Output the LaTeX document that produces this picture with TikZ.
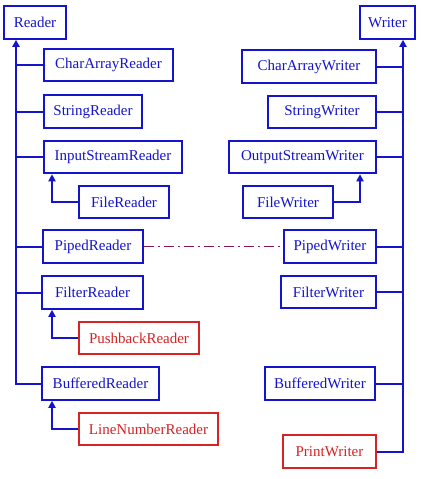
\documentclass[tikz,border=0pt]{standalone}
\usepackage{fontspec}
\setmainfont{Liberation Serif}
\usepackage{xcolor}
\usetikzlibrary{arrows.meta, positioning, calc}
\definecolor{IOBlue}{RGB}{20,20,205}
\definecolor{IORed}{RGB}{215,35,35}
\definecolor{IOPlum}{RGB}{130,20,90}
\tikzset{
    % Node styles
    classbox/.style={
        rectangle,
        draw=IOBlue,
        fill=white,
        line width=2pt,
        minimum height=32.5pt,
        inner sep=0pt,
        text=IOBlue,
        font=\fontsize{15}{18}\selectfont
    },
    redbox/.style={
        classbox,
        draw=IORed,
        text=IORed
    },
    % Line styles
    branch/.style={
        draw=IOBlue,
        line width=2pt
    },
    inherit/.style={
        branch,
        -{Triangle[width=7pt,length=7pt]}
    },
    pipeline/.style={
        draw=IOPlum,
        line width=1pt,
        dash pattern=on 10pt off 4pt on 2pt off 4pt
    }
}
\begin{document}
\begin{tikzpicture}[x=1pt,y=-1pt]
    \useasboundingbox (0,0) rectangle (422,479);

    % Reader side
    \node[classbox,minimum width=62pt] (reader) at (35,22.5) {Reader};
    \node[classbox,minimum width=129pt] (car) at (108.5,65) {CharArrayReader};
    \node[classbox,minimum width=98pt] (strr) at (93,111.5) {StringReader};
    \node[classbox,minimum width=138pt] (isr) at (113,157) {InputStreamReader};
    \node[classbox,minimum width=90pt] (filer) at (124,202) {FileReader};
    \node[classbox,minimum width=100pt] (piper) at (93,246.5) {PipedReader};
    \node[classbox,minimum width=101pt] (filtr) at (92.5,292.5) {FilterReader};
    \node[redbox,minimum width=120pt] (pushr) at (139,338) {PushbackReader};
    \node[classbox,minimum width=117pt] (bufr) at (100.5,383.5) {BufferedReader};
    \node[redbox,minimum width=139pt] (lnr) at (148.5,429) {LineNumberReader};
    \coordinate (rtrunk) at (16,0);

    % Writer side
    \node[classbox,minimum width=55pt] (writer) at (387.5,22.5) {Writer};
    \node[classbox,minimum width=134pt] (caw) at (309,66.5) {CharArrayWriter};
    \node[classbox,minimum width=108pt] (strw) at (322,112) {StringWriter};
    \node[classbox,minimum width=147pt] (osw) at (302.5,157) {OutputStreamWriter};
    \node[classbox,minimum width=90pt] (filew) at (288,202) {FileWriter};
    \node[classbox,minimum width=92pt] (pipew) at (330,246.5) {PipedWriter};
    \node[classbox,minimum width=95pt] (filtw) at (328.5,292) {FilterWriter};
    \node[classbox,minimum width=110pt] (bufw) at (320,383.5) {BufferedWriter};
    \node[redbox,minimum width=93pt] (printw) at (329.5,451.5) {PrintWriter};
    \coordinate (wtrunk) at (403,0);

    % Reader hierarchy
    \draw[inherit] (bufr.west) -| (reader.south -| rtrunk);
    \draw[branch] (car.west) -- (car.west -| rtrunk);
    \draw[branch] (strr.west) -- (strr.west -| rtrunk);
    \draw[branch] (isr.west) -- (isr.west -| rtrunk);
    \draw[branch] (piper.west) -- (piper.west -| rtrunk);
    \draw[branch] (filtr.west) -- (filtr.west -| rtrunk);
    \draw[inherit] (filer.west) -| ([xshift=9pt]isr.south west);
    \draw[inherit] (pushr.west) -| ([xshift=11pt]filtr.south west);
    \draw[inherit] (lnr.west) -| ([xshift=11pt]bufr.south west);

    % Writer hierarchy
    \draw[inherit] (printw.east) -| (writer.south -| wtrunk);
    \draw[branch] (caw.east) -- (caw.east -| wtrunk);
    \draw[branch] (strw.east) -- (strw.east -| wtrunk);
    \draw[branch] (osw.east) -- (osw.east -| wtrunk);
    \draw[branch] (pipew.east) -- (pipew.east -| wtrunk);
    \draw[branch] (filtw.east) -- (filtw.east -| wtrunk);
    \draw[branch] (bufw.east) -- (bufw.east -| wtrunk);
    \draw[inherit] (filew.east) -| ([xshift=-17pt]osw.south east);

    % Pipe link
    \draw[pipeline] (piper.east) -- (pipew.west);
\end{tikzpicture}
\end{document}
